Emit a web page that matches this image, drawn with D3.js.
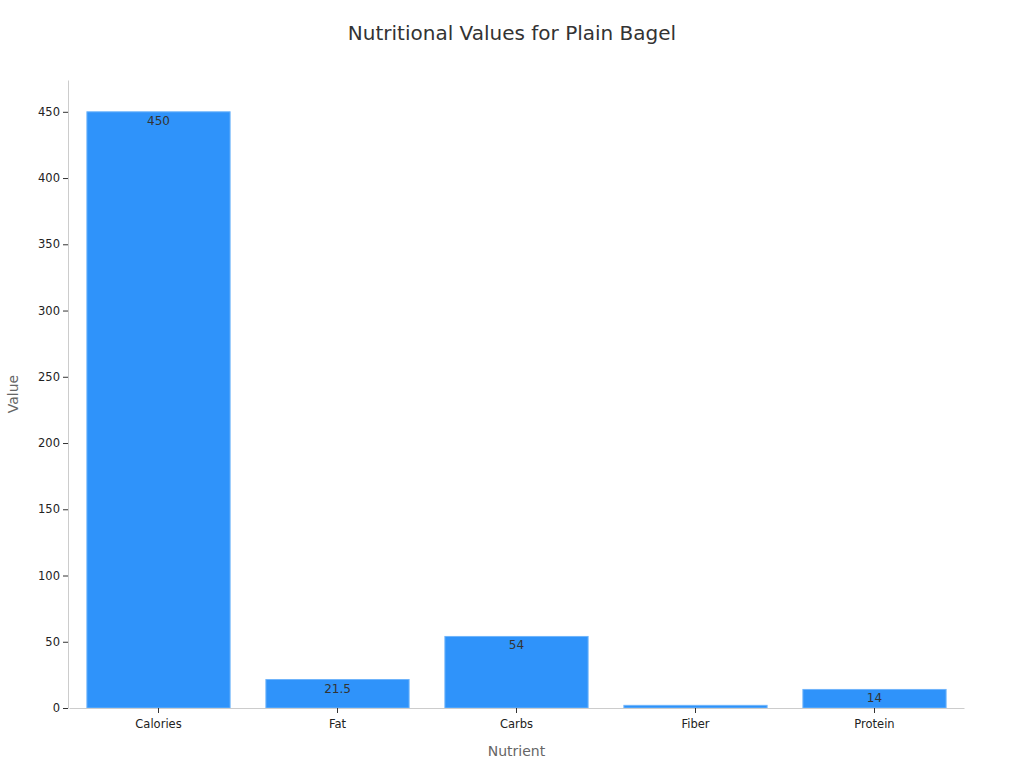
<!DOCTYPE html><html><head><meta charset="utf-8"><script src="https://cdn.jsdelivr.net/npm/d3@7"></script>
<style>body{margin:0;background:#fff}text{font-family:"DejaVu Sans",sans-serif}</style></head><body><svg width="1024" height="768"></svg>
<script>
const categories=["Calories","Fat","Carbs","Fiber","Protein"];
const values=[450,21.5,54,2,14];
const labels=["450","21.5","54","2","14"];
const yTicks=[0,50,100,150,200,250,300,350,400,450];
const svg=d3.select("svg");
const L=69,R=964,T=80,B=708;
const x=d3.scaleBand().domain(categories).range([L,R]).paddingInner(0.2).paddingOuter(0.1);
const y=d3.scaleLinear().domain([0,474]).range([B,T]);
svg.append("text").attr("x",512).attr("y",40).attr("text-anchor","middle").attr("font-size",20).attr("fill","#333").text("Nutritional Values for Plain Bagel");
const defs=svg.append("defs");
categories.forEach((d,i)=>defs.append("clipPath").attr("id","c"+i).append("rect").attr("x",x(d)).attr("width",x.bandwidth()).attr("y",y(values[i])).attr("height",B-y(values[i])));
svg.selectAll("rect.b").data(categories).enter().append("rect").attr("x",d=>x(d)).attr("width",x.bandwidth())
 .attr("y",(d,i)=>y(values[i])).attr("height",(d,i)=>B-y(values[i])).attr("fill","#2f93fa").attr("stroke","#6fb4fb").attr("stroke-width",1);
svg.selectAll("text.v").data(categories).enter().append("text").attr("clip-path",(d,i)=>`url(#c${i})`).attr("x",d=>x(d)+x.bandwidth()/2).attr("y",(d,i)=>y(values[i])+13)
 .attr("text-anchor","middle").attr("font-size",12).attr("fill","#333").text((d,i)=>labels[i]);
const ya=svg.append("g").attr("transform",`translate(${L-1},0)`).call(d3.axisLeft(y).tickValues(yTicks).tickSize(5).tickSizeOuter(0));
const xa=svg.append("g").attr("transform",`translate(0,${B})`).call(d3.axisBottom(x).tickSize(5).tickPadding(7).tickSizeOuter(0));
[ya,xa].forEach(a=>{a.select(".domain").attr("stroke","#ccc");a.selectAll(".tick line").attr("stroke","#333");a.selectAll("text").attr("font-size",11.5).attr("fill","#222").attr("font-family","DejaVu Sans");});
svg.append("text").attr("x",(L+R)/2).attr("y",756).attr("text-anchor","middle").attr("font-size",14).attr("fill","#666").text("Nutrient");
svg.append("text").attr("transform","translate(18,394) rotate(-90)").attr("text-anchor","middle").attr("font-size",14).attr("fill","#666").text("Value");
</script></body></html>
